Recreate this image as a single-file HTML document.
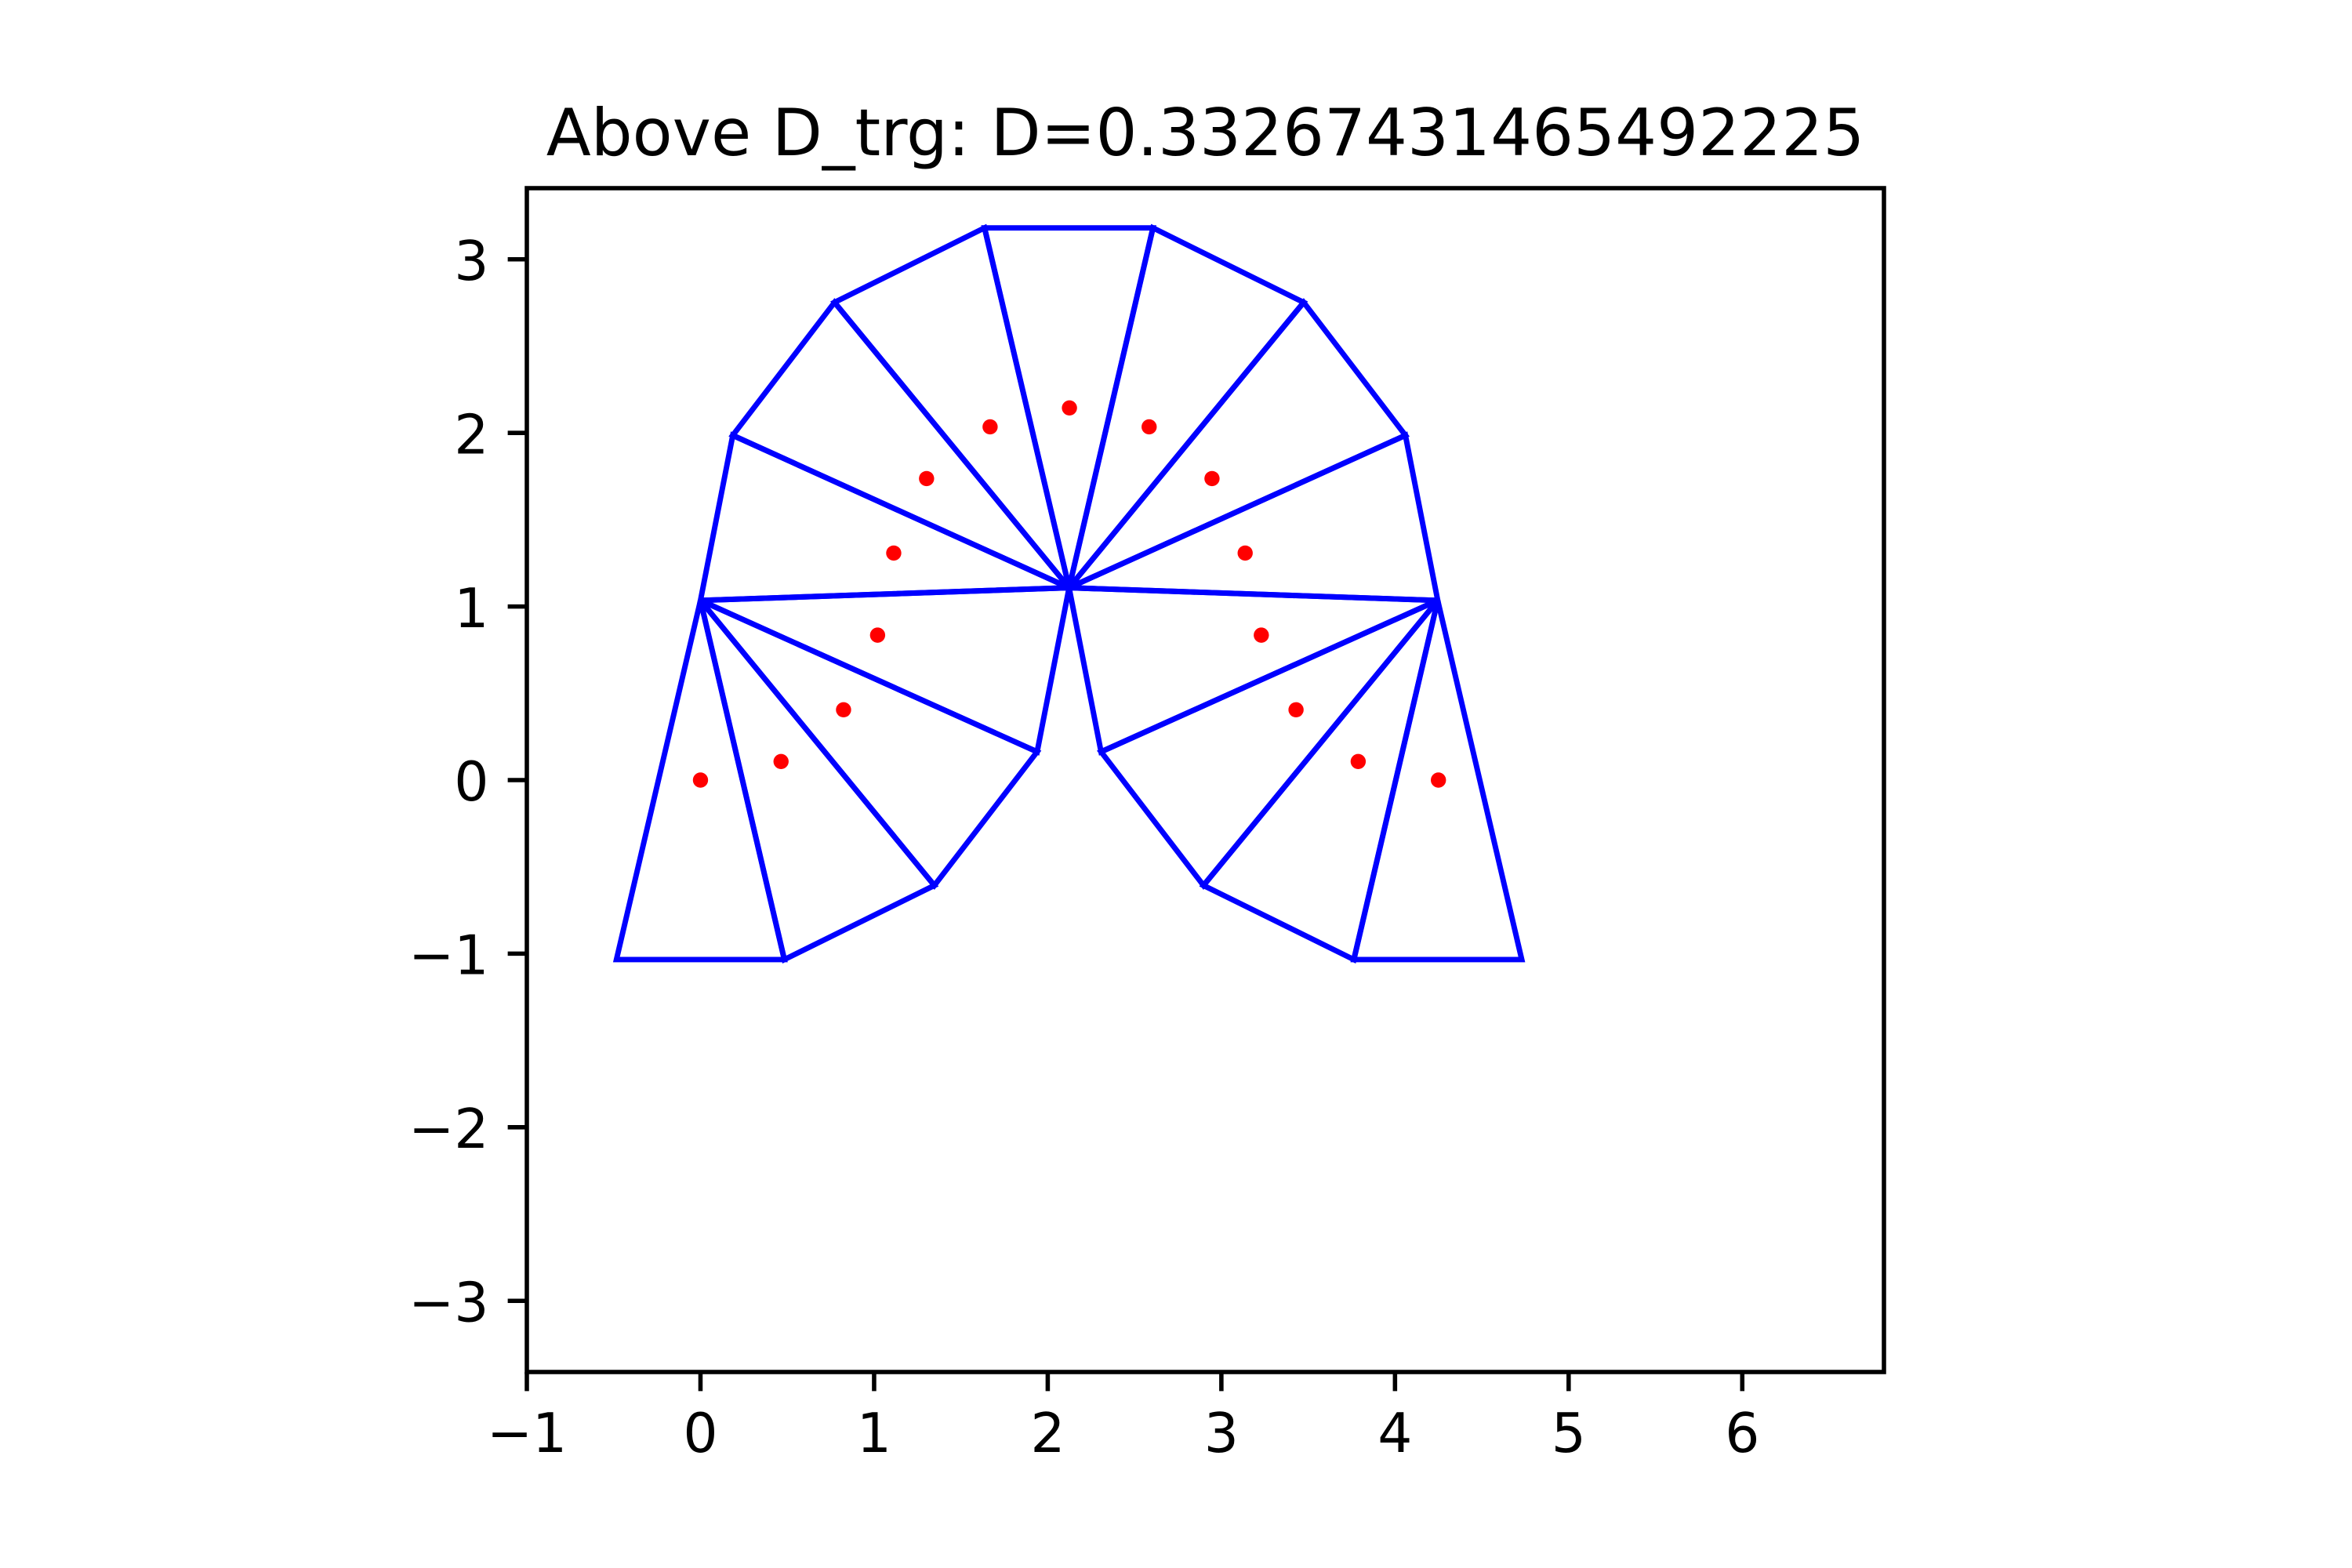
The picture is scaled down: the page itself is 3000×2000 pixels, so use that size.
<!DOCTYPE html>
<html lang="en">
<head>
<meta charset="utf-8">
<title>Above D_trg mesh plot</title>
<style>
  html, body { margin: 0; padding: 0; background: #fff; }
  svg { display: block; }
  text { font-family: "DejaVu Sans", "Liberation Sans", sans-serif; fill: #000; }
</style>
</head>
<body>
<svg id="chart" xmlns="http://www.w3.org/2000/svg" width="3000" height="2000" viewBox="0 0 3000 2000">
  <rect x="0" y="0" width="3000" height="2000" fill="#ffffff"/>
  <text x="1537.5" y="198" font-size="83.33" text-anchor="middle">Above D_trg: D=0.33267431465492225</text>
  <g id="marks"></g>
  <g id="axes"></g>
</svg>
<script>
const xTicks = [-1, 0, 1, 2, 3, 4, 5, 6];
const yTicks = [-3, -2, -1, 0, 1, 2, 3];
const xLimits = [-1, 6.816];
const yLimits = [-3.41, 3.41];
const vertexX = [-0.484, 0.483, 1.347, 1.939, 0, 0.186, 0.772, 1.636, 2.606, 3.474, 4.06, 4.246, 2.307, 2.897, 3.763, 4.73, 2.123];
const vertexY = [-1.034, -1.034, -0.607, 0.163, 1.035, 1.986, 2.752, 3.181, 3.181, 2.752, 1.986, 1.035, 0.163, -0.607, -1.034, -1.034, 1.108];
const triangleA = [0, 1, 2, 3, 4, 5, 6, 7, 8, 9, 10, 11, 12, 13, 14];
const triangleB = [1, 2, 3, 16, 16, 16, 16, 16, 16, 16, 16, 16, 11, 11, 11];
const triangleC = [4, 4, 4, 4, 5, 6, 7, 8, 9, 10, 11, 12, 13, 14, 15];
const pointX = [0, 0.464, 0.824, 1.02, 1.113, 1.302, 1.668, 2.125, 2.584, 2.946, 3.137, 3.23, 3.43, 3.788, 4.25];
const pointY = [0, 0.107, 0.405, 0.835, 1.308, 1.737, 2.035, 2.144, 2.035, 1.737, 1.308, 0.835, 0.405, 0.107, 0];

const NS = 'http://www.w3.org/2000/svg';
const box = { left: 672, right: 2403, top: 240, bottom: 1750 };
const spineWidth = 5.55;
const tickLength = 24.3;
const tickPad = 24.3;
const labelSize = 69.44;

function xScale(v) {
  return box.left + (v - xLimits[0]) / (xLimits[1] - xLimits[0]) * (box.right - box.left);
}
function yScale(v) {
  return box.bottom - (v - yLimits[0]) / (yLimits[1] - yLimits[0]) * (box.bottom - box.top);
}
function make(tag, parent, attrs) {
  const el = document.createElementNS(NS, tag);
  for (const k in attrs) el.setAttribute(k, attrs[k]);
  parent.appendChild(el);
  return el;
}
function tickText(v) {
  return v < 0 ? '\u2212' + Math.abs(v) : String(v);
}

const marks = document.getElementById('marks');
const axes = document.getElementById('axes');

triangleA.forEach(function (a, i) {
  const ids = [a, triangleB[i], triangleC[i]];
  const pts = ids.map(function (id) {
    return xScale(vertexX[id]).toFixed(2) + ',' + yScale(vertexY[id]).toFixed(2);
  }).join(' ');
  const tri = make('polygon', marks, {
    points: pts, fill: 'none', stroke: '#0000ff', 'stroke-width': 6.94,
    'stroke-linejoin': 'miter', 'stroke-miterlimit': 4
  });
  
  
});

pointX.forEach(function (x, i) {
  const dot = make('circle', marks, {
    cx: xScale(x).toFixed(2), cy: yScale(pointY[i]).toFixed(2), r: 9.7, fill: '#ff0000'
  });
  
  
});

xTicks.forEach(function (v) {
  const px = xScale(v);
  const tick = make('line', axes, {
    x1: px, x2: px, y1: box.bottom, y2: box.bottom + tickLength + spineWidth / 2 - 2.7,
    stroke: '#000', 'stroke-width': spineWidth
  });
  
  
  const label = make('text', axes, {
    x: px, y: 1852, 'font-size': labelSize, 'text-anchor': 'middle'
  });
  label.textContent = tickText(v);
  
  
});

yTicks.forEach(function (v) {
  const py = yScale(v);
  const tick = make('line', axes, {
    x1: box.left - tickLength - spineWidth / 2 + 2.7, x2: box.left, y1: py, y2: py,
    stroke: '#000', 'stroke-width': spineWidth
  });
  
  
  const label = make('text', axes, {
    x: box.left - tickLength - tickPad, y: py + 26.2, 'font-size': labelSize, 'text-anchor': 'end'
  });
  label.textContent = tickText(v);
  
  
});

const frame = make('rect', axes, {
  x: box.left, y: box.top, width: box.right - box.left, height: box.bottom - box.top,
  fill: 'none', stroke: '#000', 'stroke-width': spineWidth, 'stroke-linejoin': 'miter'
});


</script>
</body>
</html>
